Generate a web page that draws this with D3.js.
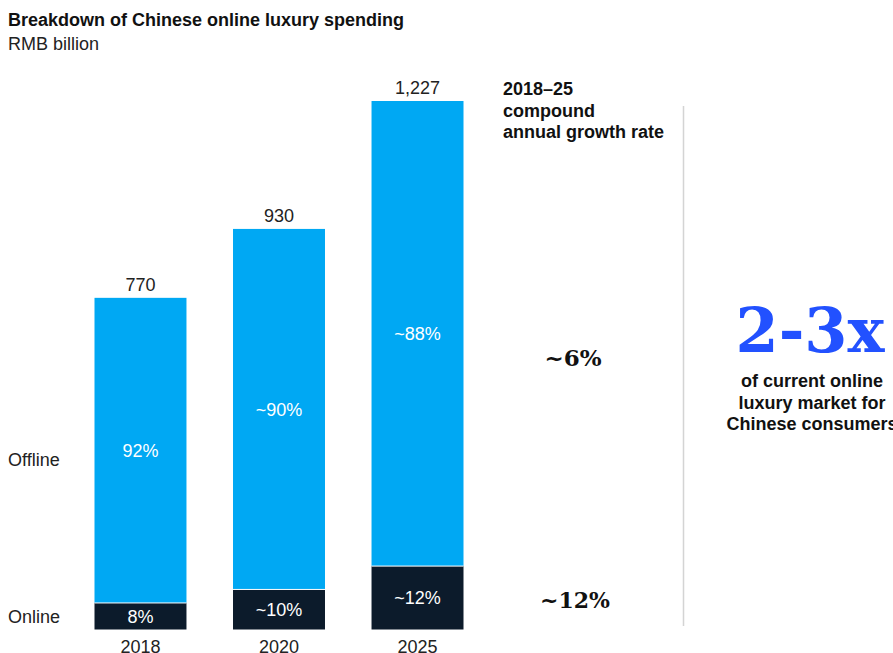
<!DOCTYPE html>
<html>
<head>
<meta charset="utf-8">
<script src="https://cdn.jsdelivr.net/npm/d3@7"></script>
<style>
  html, body { margin: 0; padding: 0; background: #fff; }
  svg { display: block; font-family: "Liberation Sans", Arial, sans-serif; }
</style>
</head>
<body>
<svg id="chart" width="893" height="653"></svg>
<script>
// Chinese luxury spending, RMB billion
const years = ["2018", "2020", "2025"];
const totals = [770, 930, 1227];
const onlineShare = [0.08, 0.10, 0.12];
const onlineLabels = ["8%", "~10%", "~12%"];
const offlineLabels = ["92%", "~90%", "~88%"];
const totalLabels = ["770", "930", "1,227"];
const cagrLabels = ["~6%", "~12%"]; // offline, online

const svg = d3.select("#chart");
const colors = { offline: "#00A8F3", online: "#0C1B2B", text: "#1a1a1a", accent: "#2251FF" };
const FS = 18;

const x = d3.scaleBand().domain(years).range([94.5, 463.5]).paddingInner(0.336).paddingOuter(0);
const y = d3.scaleLinear().domain([0, 1227]).range([629.5, 101]);

const data = years.map((yr, i) => ({
  year: yr,
  total: totals[i],
  online: totals[i] * onlineShare[i],
  onlineLabel: onlineLabels[i],
  offlineLabel: offlineLabels[i],
  totalLabel: totalLabels[i]
}));

// Title
svg.append("text").attr("x", 8).attr("y", 26)
  .attr("font-size", FS).attr("font-weight", "bold").attr("fill", "#111")
  .text("Breakdown of Chinese online luxury spending");
svg.append("text").attr("x", 8).attr("y", 50)
  .attr("font-size", FS).attr("fill", "#222").text("RMB billion");

const g = svg.append("g");

// Offline segment (top)
g.selectAll("rect.offline").data(data).join("rect")
  .attr("class", "offline")
  .attr("x", d => x(d.year)).attr("width", x.bandwidth())
  .attr("y", d => y(d.total)).attr("height", d => y(d.online) - y(d.total))
  .attr("fill", colors.offline);

// Online segment (bottom)
g.selectAll("rect.online").data(data).join("rect")
  .attr("class", "online")
  .attr("x", d => x(d.year)).attr("width", x.bandwidth())
  .attr("y", d => y(d.online)).attr("height", d => y(0) - y(d.online))
  .attr("fill", colors.online);

// Thin separator between segments
g.selectAll("line.sep").data(data).join("line")
  .attr("x1", d => x(d.year)).attr("x2", d => x(d.year) + x.bandwidth())
  .attr("y1", d => y(d.online)).attr("y2", d => y(d.online))
  .attr("stroke", "#ffffff").attr("stroke-width", 1);

// Segment labels
g.selectAll("text.offlineLbl").data(data).join("text")
  .attr("x", d => x(d.year) + x.bandwidth() / 2)
  .attr("y", d => (y(d.total) + y(d.online)) / 2 + 6.5)
  .attr("text-anchor", "middle").attr("font-size", FS).attr("fill", "#fff")
  .text(d => d.offlineLabel);

g.selectAll("text.onlineLbl").data(data).join("text")
  .attr("x", d => x(d.year) + x.bandwidth() / 2)
  .attr("y", d => (y(d.online) + y(0)) / 2 + 6.5)
  .attr("text-anchor", "middle").attr("font-size", FS).attr("fill", "#fff")
  .text(d => d.onlineLabel);

// Totals above bars
g.selectAll("text.total").data(data).join("text")
  .attr("x", d => x(d.year) + x.bandwidth() / 2)
  .attr("y", d => y(d.total) - 7)
  .attr("text-anchor", "middle").attr("font-size", FS).attr("fill", "#222")
  .text(d => d.totalLabel);

// Year axis
const xAxis = d3.axisBottom(x).tickSize(0).tickPadding(0);
const ax = svg.append("g").attr("transform", `translate(0, ${y(0) + 9})`).call(xAxis);
ax.select(".domain").remove();
ax.selectAll("text").attr("font-size", FS).attr("fill", "#222")
  .attr("font-family", "'Liberation Sans', Arial, sans-serif").attr("dy", "0.78em");

// Series labels on the left
svg.append("text").attr("x", 8).attr("y", 466).attr("font-size", FS).attr("fill", "#222").text("Offline");
svg.append("text").attr("x", 8).attr("y", (y(data[0].online) + y(0)) / 2 + 7)
  .attr("font-size", FS).attr("fill", "#222").text("Online");

// CAGR column
const cagr = svg.append("g").attr("font-weight", "bold").attr("fill", "#111").attr("font-size", FS);
["2018–25", "compound", "annual growth rate"].forEach((t, i) => {
  cagr.append("text").attr("x", 503).attr("y", 95 + i * 21.5).text(t);
});
svg.append("text").attr("x", 573).attr("y", 366)
  .attr("text-anchor", "middle").attr("font-family", "'DejaVu Serif', serif").attr("font-weight", "bold")
  .attr("font-size", 23).attr("fill", "#111").text(cagrLabels[0]);
svg.append("text").attr("x", 575).attr("y", 608)
  .attr("text-anchor", "middle").attr("font-family", "'DejaVu Serif', serif").attr("font-weight", "bold")
  .attr("font-size", 22).attr("fill", "#111").text(cagrLabels[1]);

// Divider
svg.append("line").attr("x1", 683.5).attr("x2", 683.5).attr("y1", 106).attr("y2", 626)
  .attr("stroke", "#d4d4d4").attr("stroke-width", 1.5);

// Market potential callout
svg.append("text").attr("x", 810).attr("y", 352)
  .attr("text-anchor", "middle").attr("font-family", "'DejaVu Serif', serif").attr("font-weight", "bold")
  .attr("font-size", 62).attr("fill", colors.accent).text("2-3x");
["of current online", "luxury market for", "Chinese consumers"].forEach((t, i) => {
  svg.append("text").attr("x", 812).attr("y", 387 + i * 21.5)
    .attr("text-anchor", "middle").attr("font-weight", "bold").attr("font-size", FS).attr("fill", "#111").text(t);
});
</script>
</body>
</html>
